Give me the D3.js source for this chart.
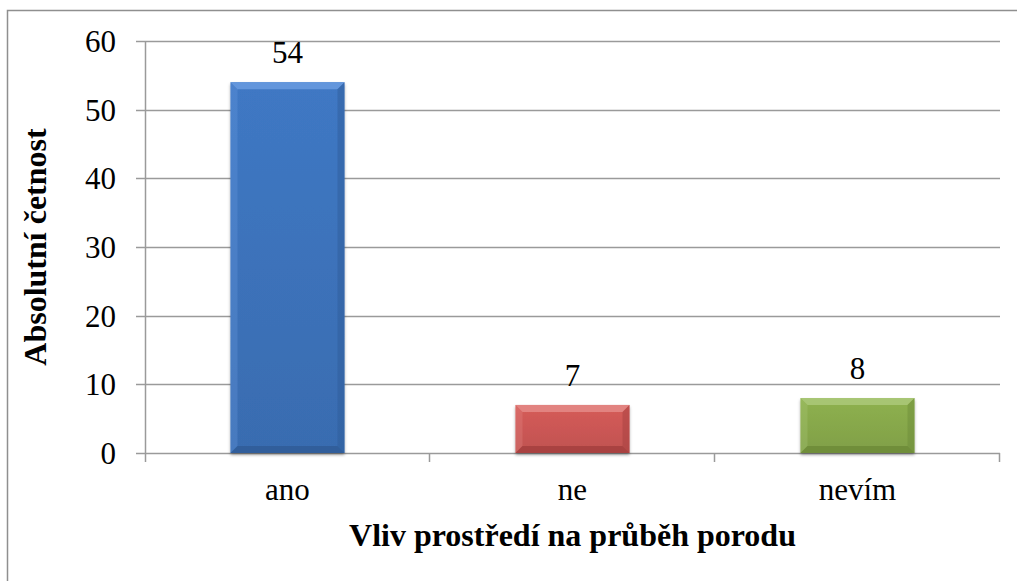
<!DOCTYPE html>
<html>
<head>
<meta charset="utf-8">
<script src="https://cdn.jsdelivr.net/npm/d3@7"></script>
<style>
  html, body { margin: 0; padding: 0; background: #fff; }
  svg { display: block; }
</style>
</head>
<body>
<svg id="chart" width="1017" height="581"></svg>
<script>
// Odpovědi na otázku o vlivu prostředí
const categories = ["ano", "ne", "nevím"];
const counts = [54, 7, 8];
const yTicks = [0, 10, 20, 30, 40, 50, 60];
const xTitle = "Vliv prostředí na průběh porodu";
const yTitle = "Absolutní četnost";

const FONT = '"Liberation Serif", "Times New Roman", Tinos, serif';

// Barvy sloupců: základ, světlá hrana, tmavá hrana
const palette = [
  { base: "#3c72ba", light: "#6a9be0", dark: "#2f5b96" },
  { base: "#cb5754", light: "#e48a87", dark: "#a23f3d" },
  { base: "#87a84b", light: "#abc97a", dark: "#6b8a37" }
];

const svg = d3.select("#chart");
const W = 1017, H = 581;
const margin = { left: 145, right: 17, top: 41, bottom: 128 };
const x0 = margin.left, x1 = W - margin.right;
const yTop = margin.top, yBot = H - margin.bottom;

// Rámeček grafu
svg.append("rect")
  .attr("x", 7.5).attr("y", 10.5)
  .attr("width", 1040).attr("height", 620)
  .attr("fill", "none").attr("stroke", "#8f8f8f").attr("stroke-width", 1.5);

const x = d3.scaleBand().domain(categories).range([x0, x1]).paddingInner(0.6).paddingOuter(0.3);
const xBand = d3.scaleBand().domain(categories).range([x0, x1]);
const y = d3.scaleLinear().domain([0, 60]).range([yBot, yTop]);

// Mřížka
svg.append("g").selectAll("line").data(yTicks).join("line")
  .attr("x1", x0 - 9).attr("x2", x1)
  .attr("y1", d => Math.round(y(d)) + 0.5).attr("y2", d => Math.round(y(d)) + 0.5)
  .attr("stroke", "#9a9a9a").attr("stroke-width", 1.5);

// Osa y
svg.append("line")
  .attr("x1", x0 + 0.5).attr("x2", x0 + 0.5)
  .attr("y1", yTop).attr("y2", yBot + 9)
  .attr("stroke", "#9a9a9a").attr("stroke-width", 1.5);

// Značky mezi kategoriemi na ose x
const bounds = categories.map(c => xBand(c)).concat([x1]);
svg.append("g").selectAll("line").data(bounds.slice(1)).join("line")
  .attr("x1", d => d - 0.5).attr("x2", d => d - 0.5)
  .attr("y1", yBot).attr("y2", yBot + 9)
  .attr("stroke", "#9a9a9a").attr("stroke-width", 1.5);

// Popisky osy y
svg.append("g").selectAll("text").data(yTicks).join("text")
  .attr("x", x0 - 29).attr("y", d => y(d))
  .attr("dy", "0.35em")
  .attr("text-anchor", "end")
  .style("font-family", FONT).style("font-size", "31px")
  .text(d => d);

// Stín a přechody sloupců
const defs = svg.append("defs");
const f = defs.append("filter").attr("id", "shadow").attr("x", "-10%").attr("y", "-10%").attr("width", "120%").attr("height", "130%");
f.append("feDropShadow").attr("dx", 0).attr("dy", 2).attr("stdDeviation", 1.5).attr("flood-color", "#000").attr("flood-opacity", 0.35);

categories.forEach((c, i) => {
  const lg = defs.append("linearGradient").attr("id", "g" + i).attr("x1", 0).attr("x2", 0).attr("y1", 0).attr("y2", 1);
  lg.append("stop").attr("offset", "0%").attr("stop-color", d3.color(palette[i].base).brighter(0.15));
  lg.append("stop").attr("offset", "100%").attr("stop-color", d3.color(palette[i].base).darker(0.15));
});

const bars = svg.append("g").selectAll("g").data(categories).join("g");
bars.each(function (c, i) {
  const g = d3.select(this);
  const bx = x(c), bw = x.bandwidth();
  const top = y(counts[i]), bot = y(0);
  const b = 7; // šířka zkosení
  const p = palette[i];
  g.append("rect")
    .attr("x", bx).attr("y", top).attr("width", bw).attr("height", bot - top)
    .attr("fill", `url(#g${i})`).attr("filter", "url(#shadow)");
  // horní hrana
  g.append("polygon")
    .attr("points", [[bx, top], [bx + bw, top], [bx + bw - b, top + b], [bx + b, top + b]].join(" "))
    .attr("fill", p.light).attr("opacity", 0.85);
  // levá hrana
  g.append("polygon")
    .attr("points", [[bx, top], [bx + b, top + b], [bx + b, bot - b], [bx, bot]].join(" "))
    .attr("fill", p.light).attr("opacity", 0.3);
  // pravá hrana
  g.append("polygon")
    .attr("points", [[bx + bw, top], [bx + bw, bot], [bx + bw - b, bot - b], [bx + bw - b, top + b]].join(" "))
    .attr("fill", p.dark).attr("opacity", 0.45);
  // spodní hrana
  g.append("polygon")
    .attr("points", [[bx, bot], [bx + b, bot - b], [bx + bw - b, bot - b], [bx + bw, bot]].join(" "))
    .attr("fill", p.dark).attr("opacity", 0.8);
});

// Hodnoty nad sloupci
svg.append("g").selectAll("text").data(categories).join("text")
  .attr("x", c => x(c) + x.bandwidth() / 2)
  .attr("y", (c, i) => y(counts[i]) - 19)
  .attr("text-anchor", "middle")
  .style("font-family", FONT).style("font-size", "31px")
  .text((c, i) => counts[i]);

// Popisky kategorií
svg.append("g").selectAll("text").data(categories).join("text")
  .attr("x", c => xBand(c) + xBand.bandwidth() / 2)
  .attr("y", 500)
  .attr("text-anchor", "middle")
  .style("font-family", FONT).style("font-size", "31px")
  .text(c => c);

// Názvy os
svg.append("text")
  .attr("x", (x0 + x1) / 2).attr("y", 546)
  .attr("text-anchor", "middle")
  .style("font-family", FONT).style("font-size", "32px").style("font-weight", "bold")
  .text(xTitle);

svg.append("text")
  .attr("transform", `translate(46, 247) rotate(-90)`)
  .attr("text-anchor", "middle")
  .style("font-family", FONT).style("font-size", "32px").style("font-weight", "bold")
  .text(yTitle);
</script>
</body>
</html>
